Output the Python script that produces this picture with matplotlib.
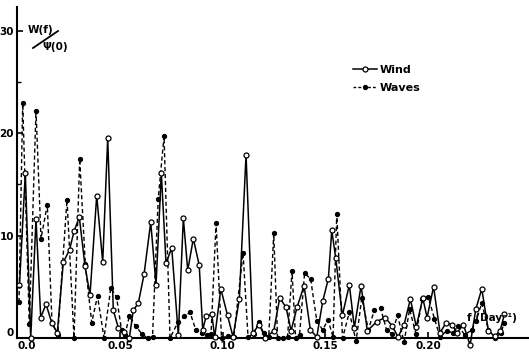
import matplotlib
matplotlib.use("Agg")
import matplotlib.pyplot as plt
from matplotlib.lines import Line2D

# ---------------- data ----------------
wind_freq = [0.00107, 0.00390, 0.00653, 0.00911, 0.01140, 0.01398, 0.01676, 0.01948,
             0.02241, 0.02543, 0.02762, 0.03020, 0.03298, 0.03541, 0.03867, 0.04160,
             0.04403, 0.04676, 0.04920, 0.05197, 0.05455, 0.05650, 0.05894, 0.06171,
             0.06498, 0.06756, 0.07014, 0.07243, 0.07521, 0.07842, 0.08086, 0.08300,
             0.08573, 0.08860, 0.09031, 0.09191, 0.09469, 0.09615, 0.09912, 0.10239,
             0.10506, 0.10813, 0.11140, 0.11466, 0.11788, 0.12080, 0.12489, 0.12781,
             0.13088, 0.13332, 0.13624, 0.13965, 0.14272, 0.14584, 0.14876, 0.15149,
             0.15314, 0.15509, 0.15830, 0.16171, 0.16415, 0.16741, 0.17048, 0.17506,
             0.17910, 0.18251, 0.18544, 0.18836, 0.19143, 0.19430, 0.19747, 0.19956,
             0.20273, 0.20589, 0.20882, 0.21174, 0.21417, 0.21724, 0.22051, 0.22328,
             0.22621, 0.22942, 0.23254, 0.23512, 0.23721]
wind_w = [5.2, 16.1, 0.0, 11.6, 2.0, 3.3, 1.5, 0.5,
          7.4, 8.6, 10.4, 11.8, 7.0, 4.2, 13.9, 7.4,
          19.5, 2.7, 1.0, 0.6, 0.0, 2.7, 3.4, 6.2,
          11.3, 5.2, 16.1, 7.3, 8.8, 0.3, 11.7, 6.6,
          9.7, 7.1, 0.8, 2.1, 2.3, 0.1, 4.8, 2.2,
          0.1, 3.8, 17.9, 0.5, 1.3, 0.0, 0.7, 3.9,
          3.0, 0.7, 3.0, 5.1, 0.8, 0.1, 3.6, 5.8,
          10.5, 7.8, 2.2, 5.2, 1.0, 5.1, 0.7, 1.6,
          2.0, 1.2, 0.1, 1.3, 3.8, 1.1, 3.9, 2.0,
          5.0, 0.5, 1.5, 1.3, 0.5, 1.3, -0.7, 2.8,
          4.8, 0.7, 0.15, 0.7, 2.3]

waves_freq = [0.00083, 0.00263, 0.00585, 0.00911, 0.01154, 0.01461, 0.01690, 0.01968,
              0.02421, 0.02762, 0.03039, 0.03312, 0.03624, 0.03906, 0.04223, 0.04554,
              0.04832, 0.05075, 0.05246, 0.05451, 0.05757, 0.06064, 0.06342, 0.06585,
              0.06863, 0.07146, 0.07438, 0.07842, 0.08120, 0.08412, 0.08690, 0.08982,
              0.09255, 0.09435, 0.09679, 0.09946, 0.10263, 0.10541, 0.10994, 0.11237,
              0.11515, 0.11758, 0.11992, 0.12245, 0.12489, 0.12674, 0.12918, 0.13161,
              0.13380, 0.13551, 0.13746, 0.13989, 0.14282, 0.14584, 0.14866, 0.15134,
              0.15377, 0.15558, 0.15840, 0.16171, 0.16498, 0.16776, 0.17097, 0.17384,
              0.17691, 0.17983, 0.18237, 0.18519, 0.18836, 0.19104, 0.19420, 0.19727,
              0.20015, 0.20312, 0.20589, 0.20916, 0.21208, 0.21481, 0.21783, 0.22134,
              0.22343, 0.22620, 0.22942, 0.23268, 0.23561, 0.23706]
waves_w = [3.5, 22.9, 1.4, 22.2, 9.7, 13.0, 1.5, 0.3,
           13.5, 0.0, 17.5, 7.2, 1.5, 4.1, 0.0, 4.9,
           4.0, 0.8, 0.3, 2.1, 1.2, 0.4, 0.0, 0.1,
           13.6, 19.7, 0.0, 1.6, 2.1, 2.5, 0.8, 0.5,
           0.3, 0.4, 11.2, 0.0, 0.2, 0.1, 8.3, 0.1,
           0.4, 1.6, 0.5, 0.1, 10.2, 0.0, 0.0, 0.1,
           6.5, 0.0, 0.3, 6.3, 5.8, 1.7, 0.8, 1.75,
           0.1, 12.1, 0.0, 2.5, -0.3, 3.9, 0.8, 2.7,
           2.9, 0.8, 0.4, 2.2, -0.4, 2.8, 0.4, 3.8,
           4.0, 1.9, 0.1, 0.7, 0.5, 1.2, 0.3, 0.8,
           1.7, 3.4, 0.8, 0.0, 0.5, 1.5]

x_ticks = [0.0, 0.05, 0.10, 0.15, 0.20]
x_tick_labels = ["0.0", "0.05", "0.10", "0.15", "0.20"]
y_ticks = [0, 10, 20, 30]
y_tick_labels = ["0", "10", "20", "30"]
y_minor_ticks = [5, 15, 25]
series_labels = ["Wind", "Waves"]
x_label = "f (Day\u207b\u00b9)"
y_label_num = "W(f)"
y_label_den = "\u03a8(0)"

# ---------------- figure ----------------
W, H = 529, 364
plt.rcParams['font.family'] = ['DejaVu Sans']
fig = plt.figure(figsize=(W / 100, H / 100), dpi=100)
fig.patch.set_facecolor('white')


def fx(px):
    return px / W


def fy(py):
    return 1 - py / H


ax = fig.add_axes([fx(17.3), fy(338), (W - 17.3) / W, (338 - 7) / H])
ax.set_xlim(0.0, 0.2492)
ax.set_ylim(0.0, 32.3)

ax.plot(waves_freq, waves_w, color='black', lw=1.0, ls=(0, (3, 2)),
        marker='o', ms=2.8, mfc='black', mec='black', clip_on=False, zorder=3,
        label=series_labels[1])
ax.plot(wind_freq, wind_w, color='black', lw=1.1, ls='-',
        marker='o', ms=3.6, mfc='white', mec='black', mew=0.9, clip_on=False,
        zorder=4, label=series_labels[0])

for side in ('top', 'right'):
    ax.spines[side].set_visible(False)
for side in ('left', 'bottom'):
    ax.spines[side].set_linewidth(1.5)

ax.set_xticks(x_ticks)
ax.set_xticklabels(x_tick_labels)
ax.set_yticks(y_ticks)
ax.set_yticklabels(y_tick_labels)
ax.set_yticks(y_minor_ticks, minor=True)
ax.tick_params(axis='both', which='major', direction='in', length=4, width=1.2,
               labelsize=7.5, pad=2.5)
ax.tick_params(axis='y', which='minor', direction='in', length=3, width=1.0)
for lab in ax.get_xticklabels() + ax.get_yticklabels():
    lab.set_fontweight('bold')
# first x label sits to the right of the origin, as in the reference
ax.get_xticklabels()[0].set_horizontalalignment('left')
ax.get_yticklabels()[0].set_verticalalignment('bottom')
ax.xaxis.set_zorder(5)
ax.yaxis.set_zorder(5)

# legend
handles = [Line2D([], [], color='black', lw=1.1, marker='o', ms=3.6, mfc='white',
                  mec='black', mew=0.9),
           Line2D([], [], color='black', lw=1.0, ls=(0, (2, 1.5)), marker='o', ms=2.8,
                  mfc='black', mec='black')]
ax.legend(handles, series_labels, loc='upper left',
          bbox_to_anchor=(fx(353), fy(65)), bbox_transform=fig.transFigure,
          frameon=False, handlelength=2.2, handletextpad=0.2,
          labelspacing=0.75, borderpad=0, borderaxespad=0, numpoints=1,
          prop={'weight': 'bold', 'size': 8})

# axis labels
fig.text(fx(467), fy(318), x_label, fontsize=7.5, fontweight='bold',
         ha='left', va='center')
fig.text(fx(41), fy(30), y_label_num, fontsize=7.5, fontweight='bold',
         ha='center', va='center')
fig.text(fx(55), fy(47), y_label_den, fontsize=7.5, fontweight='bold',
         ha='center', va='center')
fig.add_artist(Line2D([fx(33), fx(58)], [fy(48), fy(31)], color='black', lw=1.3,
                      transform=fig.transFigure))

fig.savefig('out.png', dpi=100)
